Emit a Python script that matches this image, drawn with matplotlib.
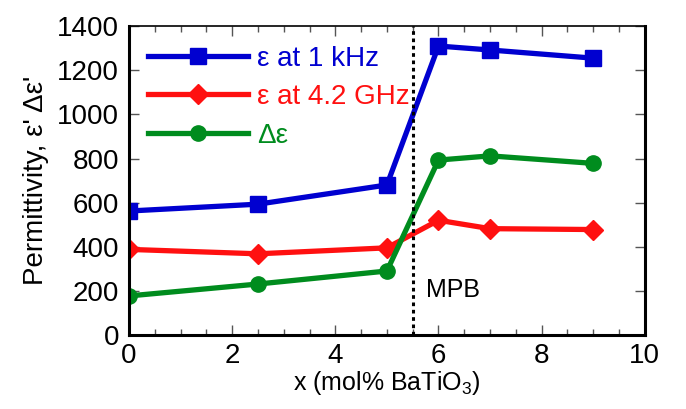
import matplotlib
matplotlib.use("Agg")
import matplotlib.pyplot as plt
from matplotlib.ticker import MultipleLocator

plt.rcParams['font.family'] = ['Liberation Sans', 'DejaVu Sans']
plt.rcParams['mathtext.default'] = 'regular'

# data
x_vals = [0, 2.5, 5, 6, 7, 9]
eps_1khz = [562, 593, 680, 1310, 1292, 1255]
eps_42ghz = [388, 368, 395, 520, 482, 478]
delta_eps = [177, 231, 290, 793, 812, 778]
mpb_x = 5.5

fig = plt.figure(figsize=(6.86, 4.09), dpi=100)
ax = fig.add_axes([0.188, 0.181, 0.752, 0.755])

ax.plot(x_vals, eps_1khz, color='#0000d0', lw=3.8, marker='s', ms=11, label='ε at 1 kHz')
ax.plot(x_vals, eps_42ghz, color='#ff1010', lw=3.8, marker='D', ms=10, label='ε at 4.2 GHz')
ax.plot(x_vals, delta_eps, color='#008c1e', lw=3.8, marker='o', ms=11, label='Δε')

ax.axvline(mpb_x, color='black', ls=(0, (1.2, 1.2)), lw=2.2)
ax.text(5.75, 205, 'MPB', fontsize=18, va='center', ha='left')

ax.set_xlim(0, 10)
ax.set_ylim(0, 1400)
ax.xaxis.set_major_locator(MultipleLocator(2))
ax.xaxis.set_minor_locator(MultipleLocator(0.5))
ax.yaxis.set_major_locator(MultipleLocator(200))
ax.tick_params(which='both', direction='in', top=True, right=True, labelsize=20, color='#555555')
ax.tick_params(which='major', length=7, width=1)
ax.tick_params(which='minor', length=4, width=1)
ax.tick_params(axis='x', pad=6)
ax.tick_params(axis='y', pad=7)

for side in ['left', 'bottom', 'right']:
    ax.spines[side].set_linewidth(2.2)
ax.spines['top'].set_linewidth(1.2)

ax.set_xlabel('x (mol% BaTiO$_3$)', fontsize=18, labelpad=0)
ax.set_ylabel("Permittivity, ε' Δε'", fontsize=20, labelpad=6)

leg = ax.legend(loc='upper left', frameon=False, fontsize=20, handlelength=3.6,
                handletextpad=0.3, labelspacing=0.45, borderaxespad=0.3,
                bbox_to_anchor=(0.0, 1.0))
for t, c in zip(leg.get_texts(), ['#0000d0', '#ff1010', '#008c1e']):
    t.set_color(c)

fig.savefig('out.png', dpi=100)
